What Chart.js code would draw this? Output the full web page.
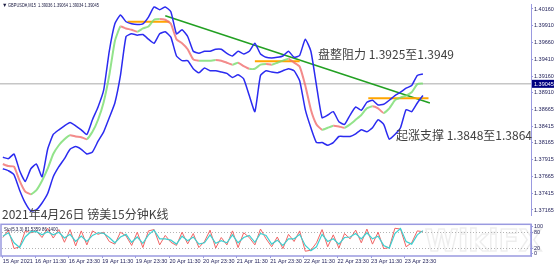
<!DOCTYPE html>
<html>
<head>
<meta charset="utf-8">
<script src="https://cdn.jsdelivr.net/npm/chart.js@4.4.0/dist/chart.umd.min.js"></script>
<style>
  html, body { margin: 0; padding: 0; background: #fff; }
  #wrap { position: relative; width: 554px; height: 265px; overflow: hidden; }
  #main { position: absolute; left: 0; top: 0; }
  #osc { position: absolute; left: 0; top: 220px; }
</style>
</head>
<body>
<div id="wrap">
  <canvas id="main" width="554" height="220"></canvas>
  <canvas id="osc" width="554" height="45"></canvas>
</div>
<script>
// GBPUSD M15 - sampled every 2 trading hours, hour 0 = 16 Apr 00:00
const sampleHours = [0, 2, 4, 6, 8, 10, 12, 14, 16, 18, 20, 22, 24, 26, 28, 30, 32, 34, 36, 38,
  40, 42, 44, 46, 48, 50, 52, 54, 56, 58, 60, 62, 64, 66, 68, 70, 72, 74, 76, 78,
  80, 82, 84, 86, 88, 90, 92, 94, 96, 98, 100, 102, 104, 106, 108, 110, 112, 114, 116, 118,
  120, 122, 124, 126, 128, 130, 132, 134, 136, 138, 140, 142, 144, 146, 148, 150];

const upperBand = [1.3795, 1.3793, 1.3800, 1.3775, 1.3759, 1.3778, 1.3785, 1.3766, 1.3807, 1.3829,
  1.3836, 1.3842, 1.3847, 1.3842, 1.3836, 1.3829, 1.3851, 1.3870, 1.3895, 1.3953,
  1.3994, 1.4007, 1.3997, 1.3994, 1.3993, 1.3994, 1.4004, 1.4019, 1.4015, 1.4019,
  1.4012, 1.3979, 1.3985, 1.3975, 1.3953, 1.3950, 1.3953, 1.3953, 1.3956, 1.3956,
  1.3950, 1.3946, 1.3953, 1.3949, 1.3953, 1.3965, 1.3949, 1.3944, 1.3943, 1.3944,
  1.3946, 1.3953, 1.3944, 1.3947, 1.3971, 1.3953, 1.3902, 1.3854, 1.3858, 1.3863,
  1.3848, 1.3844, 1.3858, 1.3870, 1.3865, 1.3877, 1.3880, 1.3873, 1.3874, 1.3880,
  1.3887, 1.3892, 1.3898, 1.3902, 1.3917, 1.3919];

const priceLine = [1.3785, 1.3782, 1.3781, 1.3760, 1.3744, 1.3740, 1.3746, 1.3760, 1.3778, 1.3800,
  1.3813, 1.3822, 1.3828, 1.3826, 1.3825, 1.3822, 1.3833, 1.3851, 1.3877, 1.3917,
  1.3968, 1.3990, 1.3987, 1.3985, 1.3982, 1.3987, 1.3990, 1.4000, 1.4001, 1.4000,
  1.3994, 1.3971, 1.3965, 1.3956, 1.3941, 1.3939, 1.3939, 1.3939, 1.3940, 1.3939,
  1.3936, 1.3933, 1.3936, 1.3931, 1.3927, 1.3927, 1.3933, 1.3934, 1.3933, 1.3936,
  1.3939, 1.3942, 1.3936, 1.3930, 1.3902, 1.3866, 1.3844, 1.3836, 1.3839, 1.3842,
  1.3841, 1.3839, 1.3844, 1.3851, 1.3858, 1.3868, 1.3871, 1.3868, 1.3861, 1.3868,
  1.3880, 1.3884, 1.3887, 1.3892, 1.3904, 1.3905];

const lowerBand = [1.3778, 1.3775, 1.3769, 1.3746, 1.3727, 1.3715, 1.3717, 1.3727, 1.3741, 1.3766,
  1.3781, 1.3793, 1.3807, 1.3811, 1.3807, 1.3800, 1.3803, 1.3819, 1.3833, 1.3854,
  1.3876, 1.3917, 1.3975, 1.3979, 1.3977, 1.3978, 1.3971, 1.3965, 1.3979, 1.3982,
  1.3974, 1.3946, 1.3939, 1.3939, 1.3927, 1.3921, 1.3928, 1.3924, 1.3924, 1.3922,
  1.3920, 1.3914, 1.3918, 1.3912, 1.3887, 1.3863, 1.3917, 1.3924, 1.3922, 1.3921,
  1.3924, 1.3927, 1.3924, 1.3909, 1.3866, 1.3839, 1.3817, 1.3817, 1.3813, 1.3817,
  1.3826, 1.3826, 1.3826, 1.3830, 1.3836, 1.3833, 1.3839, 1.3851, 1.3844, 1.3822,
  1.3829, 1.3839, 1.3866, 1.3863, 1.3876, 1.3887];

// stochastic (5,3,3)
const stochK = [60, 88, 18, 25, 85, 78, 84, 60, 95, 58, 90, 42, 90, 28, 85, 32, 85, 72, 80, 45,
  35, 80, 66, 30, 80, 22, 85, 90, 32, 68, 42, 30, 80, 36, 75, 22, 45, 88, 20, 60,
  32, 85, 22, 78, 60, 32, 92, 55, 25, 62, 18, 72, 45, 85, 8, 12, 40, 90, 25, 70,
  20, 75, 55, 88, 40, 92, 35, 80, 18, 22, 95, 92, 25, 40, 85, 82];
const stochD = [65, 78, 40, 22, 62, 82, 82, 70, 82, 70, 80, 58, 72, 45, 65, 45, 68, 78, 76, 60,
  40, 62, 72, 42, 62, 38, 70, 88, 55, 55, 50, 35, 65, 48, 62, 35, 40, 70, 38, 48,
  40, 70, 40, 60, 68, 42, 75, 68, 35, 50, 30, 55, 55, 72, 30, 10, 25, 72, 45, 55,
  35, 60, 62, 75, 55, 78, 55, 65, 30, 20, 75, 94, 45, 35, 70, 86];

const priceTicks = [1.40160, 1.39910, 1.39660, 1.39410, 1.39160, 1.38910, 1.38665,
  1.38415, 1.38165, 1.37915, 1.37665, 1.37415, 1.37165];
const timeTicks = [0, 11.5, 23.5, 35.5, 47.5, 59.5, 71.5, 83.5, 95.5, 107.5, 119.5, 131.5, 143.5];
const timeLabels = ['15 Apr 2021', '16 Apr 11:30', '16 Apr 23:30', '19 Apr 11:30', '19 Apr 23:30',
  '20 Apr 11:30', '20 Apr 23:30', '21 Apr 11:30', '21 Apr 23:30', '22 Apr 11:30',
  '22 Apr 23:30', '23 Apr 11:30', '23 Apr 23:30'];
const oscTicks = [100, 80, 20, 0];
const oscLevels = [80, 20];

// orange consolidation marks and the green trend line
const levelStart = [44.5, 90, 130.5];
const levelEnd = [59.5, 106, 152];
const levelPrice = [1.3997, 1.3938, 1.3883];
const trendHours = [58, 152.5];
const trendPrices = [1.4006, 1.3876];
const currentPrice = 1.39045;

const hourMin = -0.3;
const hourMax = 188.6;
const axisColor = '#9a9ae0';
const labelColor = '#24245c';
const smallFont = { family: 'Liberation Sans', size: 5.5 };

const toPoints = (xs, ys) => xs.map((x, i) => ({ x: x, y: ys[i] }));

const mainDecor = {
  id: 'mainDecor',
  beforeDatasetsDraw(chart) {
    const { ctx, chartArea, scales } = chart;
    const y = scales.y.getPixelForValue(currentPrice);
    ctx.save();
    ctx.strokeStyle = '#c6c6c6';
    ctx.lineWidth = 1.5;
    ctx.beginPath();
    ctx.moveTo(0, y);
    ctx.lineTo(chartArea.right, y);
    ctx.stroke();
    ctx.restore();
  },
  afterDraw(chart) {
    const { ctx, chartArea, scales } = chart;
    ctx.save();
    ctx.fillStyle = '#1a1a40';
    ctx.font = '5.5px "Liberation Sans"';
    ctx.textBaseline = 'middle';
    ctx.fillText('\u25BC', 2, 5);
    ctx.fillText('GBPUSD#,M15  1.39036 1.39064 1.39034 1.39045', 8, 5, 91);

    ctx.font = '12px "Noto Sans CJK SC"';
    ctx.fillStyle = '#404040';
    ctx.textBaseline = 'alphabetic';
    ctx.fillText('盘整阻力 1.3925至1.3949', 318, 59);
    ctx.fillText('起涨支撑 1.3848至1.3864', 396, 140);
    ctx.fillText('2021年4月26日 镑美15分钟K线', 2, 219);

    // current price box on the axis
    const y = scales.y.getPixelForValue(currentPrice);
    ctx.fillStyle = '#000080';
    ctx.fillRect(chartArea.right + 1, y - 4, 554 - chartArea.right - 1, 8);
    ctx.fillStyle = '#ffffff';
    ctx.font = '5.5px "Liberation Sans"';
    ctx.textBaseline = 'middle';
    ctx.fillText('1.39045', chartArea.right + 3, y + 0.5);
    ctx.restore();
  }
};

const oscDecor = {
  id: 'oscDecor',
  beforeDatasetsDraw(chart) {
    const { ctx, chartArea: a, scales } = chart;
    ctx.save();
    ctx.font = 'bold 30px "DejaVu Sans"';
    ctx.strokeStyle = 'rgba(0,0,0,0.07)';
    ctx.lineWidth = 1.5;
    ctx.textBaseline = 'alphabetic';
    ctx.strokeText('WikiFX', 425, a.bottom - 5);
    ctx.setLineDash([1, 2]);
    ctx.strokeStyle = '#b4b4b4';
    ctx.lineWidth = 1;
    oscLevels.forEach(v => {
      const y = Math.round(scales.y.getPixelForValue(v)) + 0.5;
      ctx.beginPath();
      ctx.moveTo(a.left, y);
      ctx.lineTo(a.right, y);
      ctx.stroke();
    });
    ctx.restore();
  },
  afterDraw(chart) {
    const { ctx, chartArea: a } = chart;
    ctx.save();
    ctx.strokeStyle = axisColor;
    ctx.lineWidth = 1.5;
    ctx.strokeRect(a.left - 1, a.top, a.right - a.left + 1, a.bottom - a.top);
    ctx.fillStyle = '#1a1a40';
    ctx.font = '5.5px "Liberation Sans"';
    ctx.textBaseline = 'middle';
    ctx.fillText('Sto(5,3,3) 81.5359 86.1400', 4, a.top + 5, 54);
    ctx.restore();
  }
};

new Chart(document.getElementById('main'), {
  type: 'line',
  data: {
    datasets: [
      { data: toPoints(sampleHours, upperBand), borderColor: '#2b2bf0', borderWidth: 1.5, tension: 0.15 },
      { data: toPoints(sampleHours, lowerBand), borderColor: '#2b2bf0', borderWidth: 1.5, tension: 0.15 },
      {
        data: toPoints(sampleHours, priceLine),
        borderColor: 'rgba(240,110,110,0.8)',
        borderWidth: 2,
        tension: 0.15,
        segment: {
          borderColor: c => c.p1.parsed.y >= c.p0.parsed.y ? 'rgba(120,220,110,0.8)' : 'rgba(240,110,110,0.8)'
        }
      },
      ...levelPrice.map((p, i) => ({
        data: [{ x: levelStart[i], y: p }, { x: levelEnd[i], y: p }],
        borderColor: '#ffa500',
        borderWidth: 2
      })),
      { data: toPoints(trendHours, trendPrices), borderColor: '#22a022', borderWidth: 1.5 }
    ]
  },
  options: {
    responsive: false,
    animation: false,
    layout: { padding: { left: 2, top: 2, right: 0, bottom: 2 } },
    elements: { point: { radius: 0 } },
    plugins: { legend: { display: false }, tooltip: { enabled: false } },
    scales: {
      x: { type: 'linear', min: hourMin, max: hourMax, display: false },
      y: {
        position: 'right',
        min: 1.3708,
        max: 1.4023,
        afterFit(scale) { scale.width = 23; },
        afterBuildTicks(scale) { scale.ticks = priceTicks.map(v => ({ value: v })); },
        ticks: { autoSkip: false, font: smallFont, color: labelColor, padding: 1, callback: v => v.toFixed(5) },
        grid: { drawOnChartArea: false, tickLength: 2, color: axisColor },
        border: { color: axisColor, width: 1 }
      }
    }
  },
  plugins: [mainDecor]
});

new Chart(document.getElementById('osc'), {
  type: 'line',
  data: {
    datasets: [
      { data: toPoints(sampleHours, stochD), borderColor: '#3fd0d0', borderWidth: 1.2 },
      { data: toPoints(sampleHours, stochK), borderColor: '#f06464', borderWidth: 1 }
    ]
  },
  options: {
    responsive: false,
    animation: false,
    layout: { padding: { left: 2, top: 1, right: 0, bottom: 0 } },
    elements: { point: { radius: 0 } },
    plugins: { legend: { display: false }, tooltip: { enabled: false } },
    scales: {
      x: {
        type: 'linear',
        min: hourMin,
        max: hourMax,
        afterFit(scale) { scale.height = 9; },
        afterBuildTicks(scale) { scale.ticks = timeTicks.map(v => ({ value: v })); },
        ticks: {
          autoSkip: false, maxRotation: 0, align: 'start', padding: 0,
          font: smallFont, color: labelColor,
          callback: (v, i) => timeLabels[i]
        },
        grid: { drawOnChartArea: false, tickLength: 2, color: axisColor },
        border: { display: false }
      },
      y: {
        position: 'right',
        min: -10,
        max: 110,
        afterFit(scale) { scale.width = 23; },
        afterBuildTicks(scale) { scale.ticks = oscTicks.map(v => ({ value: v })); },
        ticks: { autoSkip: false, font: smallFont, color: labelColor, padding: 1 },
        grid: { drawOnChartArea: false, tickLength: 2, color: axisColor },
        border: { color: axisColor, width: 1 }
      }
    }
  },
  plugins: [oscDecor]
});
</script>
</body>
</html>
